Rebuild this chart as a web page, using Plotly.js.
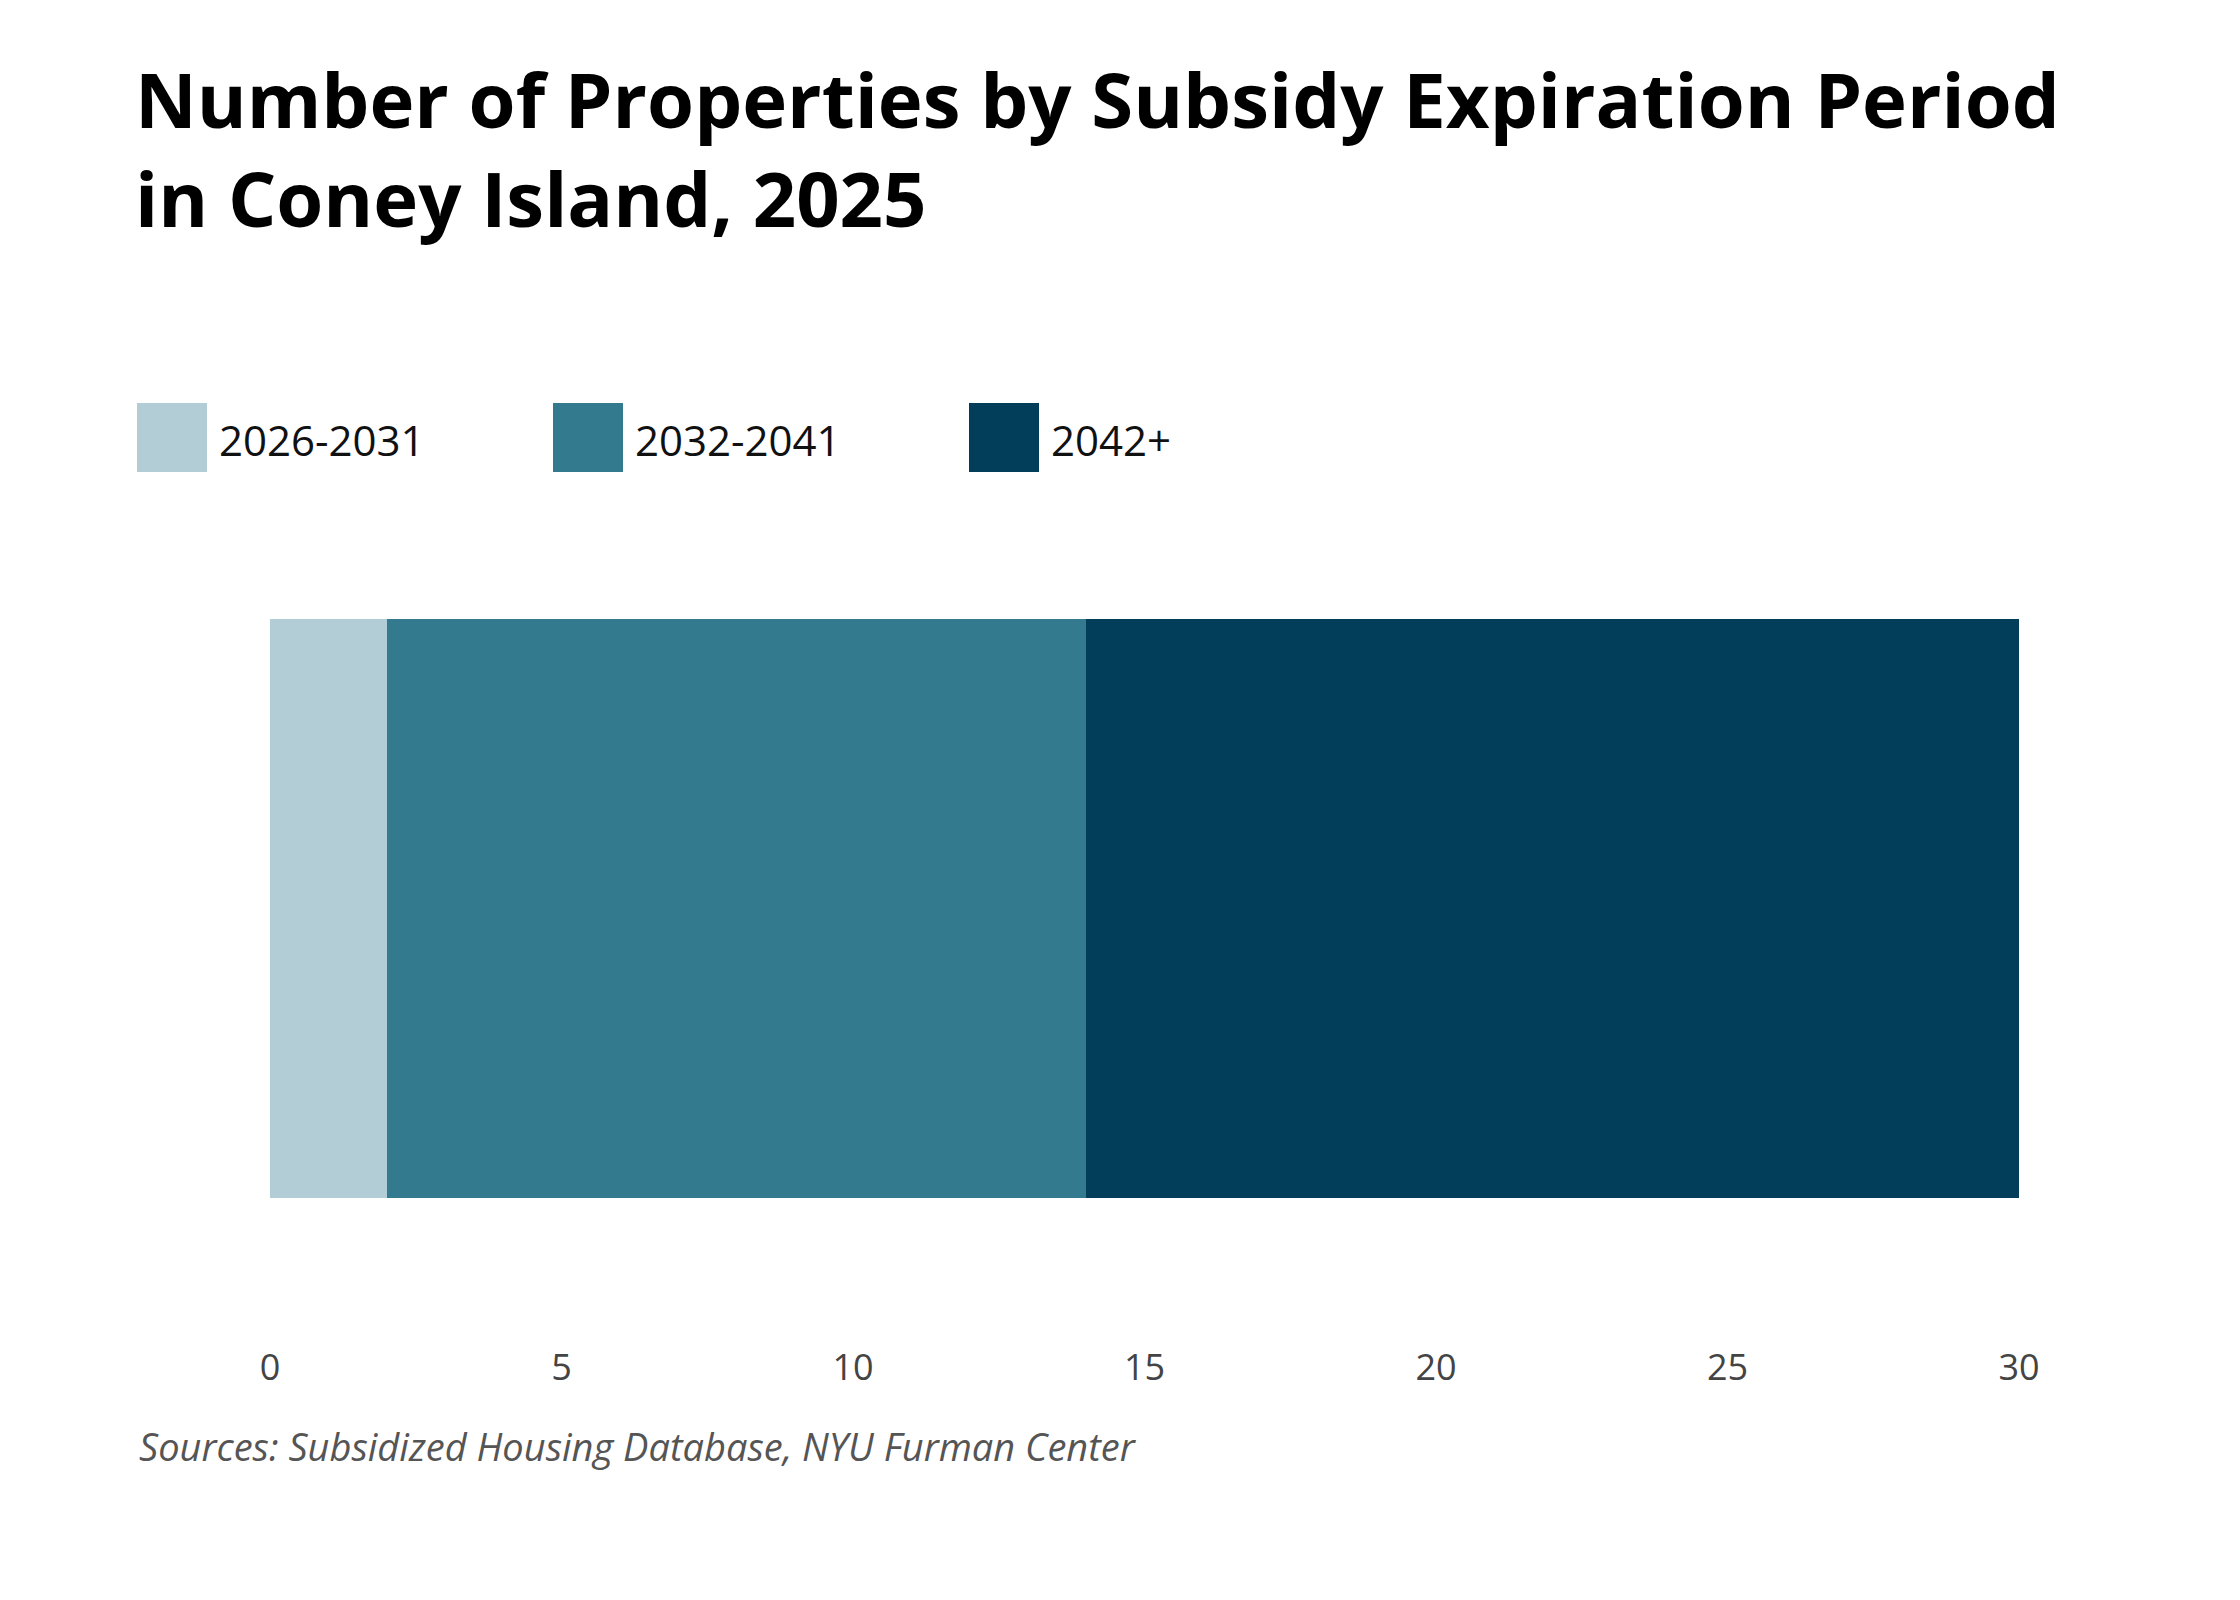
<!DOCTYPE html>
<html>
<head>
<meta charset="utf-8">
<script src="https://cdn.plot.ly/plotly-3.0.1.min.js"></script>
<style>html,body{margin:0;padding:0;background:#fff}</style>
</head>
<body>
<div id="chart" style="width:2240px;height:1600px"></div>
<script>
var periods = ["2026-2031", "2032-2041", "2042+"];
var counts = [2, 12, 16];
var colors = ["#b3cdd6", "#347a8f", "#023e5a"];
var tickVals = [0, 5, 10, 15, 20, 25, 30];

var data = [];
for (var i = 0; i < periods.length; i++) {
    data.push({
        type: 'bar',
        orientation: 'h',
        x: [counts[i]],
        y: ["Coney Island"],
        name: periods[i],
        marker: {color: colors[i]},
        width: 1,
        hoverinfo: 'x+name'
    });
}

// plot area in pixels, used to place the custom legend and source note
var L = 270, R = 221, T = 619, B = 257;
var pw = 2240 - L - R, ph = 1600 - T - B;
function px(x) { return (x - L) / pw; }
function py(y) { return (1600 - B - y) / ph; }

var shapes = [], annotations = [];
var legX = [137, 553, 969];
for (i = 0; i < periods.length; i++) {
    shapes.push({type: 'rect', xref: 'paper', yref: 'paper',
        x0: px(legX[i]), x1: px(legX[i] + 70),
        y0: py(472), y1: py(403),
        fillcolor: colors[i], line: {width: 0}});
    annotations.push({xref: 'paper', yref: 'paper', showarrow: false,
        x: px(legX[i] + 80), xanchor: 'left',
        y: py(439), yanchor: 'middle',
        text: periods[i], font: {family: 'Open Sans', size: 42, color: '#111'}});
}
annotations.push({xref: 'paper', yref: 'paper', showarrow: false,
    x: px(137), xanchor: 'left', y: py(1446), yanchor: 'middle',
    text: '<i>Sources: Subsidized Housing Database, NYU Furman Center</i>',
    font: {family: 'Open Sans', size: 38, color: '#555'}});

var layout = {
    width: 2240, height: 1600,
    margin: {l: L, r: R, t: T, b: B, pad: 0},
    paper_bgcolor: '#fff', plot_bgcolor: '#fff',
    barmode: 'stack', bargap: 0,
    showlegend: false,
    title: {
        text: 'Number of Properties by Subsidy Expiration Period<br>in Coney Island, 2025',
        x: 135 / 2240, xanchor: 'left', y: 1 - 128 / 1600, yanchor: 'top',
        font: {family: 'Open Sans', size: 76, color: '#000', weight: 700}
    },
    xaxis: {
        range: [0, 30], tickvals: tickVals, showgrid: false, zeroline: false,
        showline: false, ticks: '',
        tickfont: {family: 'Open Sans', size: 36, color: '#444'}
    },
    yaxis: {range: [-0.75, 0.5], showticklabels: false, showgrid: false, zeroline: false},
    shapes: shapes,
    annotations: annotations
};

Plotly.newPlot('chart', data, layout, {displayModeBar: false});
</script>
</body>
</html>
